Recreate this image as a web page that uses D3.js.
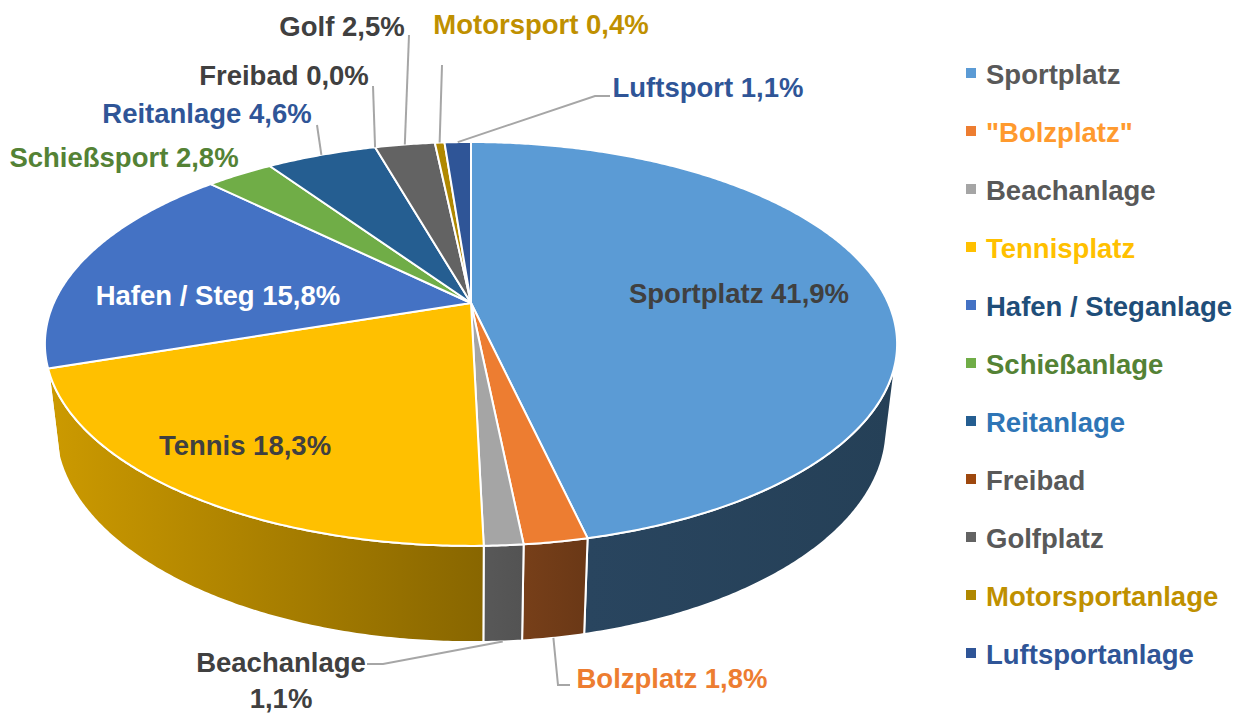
<!DOCTYPE html>
<html>
<head>
<meta charset="utf-8">
<script src="https://cdn.jsdelivr.net/npm/d3@7"></script>
<style>
  html, body { margin: 0; padding: 0; background: #fff; }
  text { font-family: "Liberation Sans", Arial, sans-serif; font-weight: bold; }
</style>
</head>
<body>
<div id="chart"></div>
<script>
// data
var categories = ["Sportplatz", "\"Bolzplatz\"", "Beachanlage", "Tennisplatz", "Hafen / Steganlage", "Schießanlage", "Reitanlage", "Freibad", "Golfplatz", "Motorsportanlage", "Luftsportanlage"];
var labelNames = ["Sportplatz", "Bolzplatz", "Beachanlage", "Tennis", "Hafen / Steg", "Schießsport", "Reitanlage", "Freibad", "Golf", "Motorsport", "Luftsport"];
var values = [41.9, 1.8, 1.1, 18.3, 15.8, 2.8, 4.6, 0.0, 2.5, 0.4, 1.1];

// styles
var sliceColors = ["#5b9bd5", "#ed7d31", "#a5a5a5", "#ffc000", "#4472c4", "#70ad47", "#255e91", "#9e480e", "#636363", "#b08800", "#2f5597"];
var legendTextColors = ["#595959", "#ff9a2e", "#595959", "#ffc000", "#1f4e79", "#548235", "#2e75b6", "#595959", "#595959", "#bf9000", "#2f5597"];

var width = 1236, height = 714;
var fontSize = 27.5;

// 3d view (perspective)
var view = {cx: 471, cy: 303, f: 1822.5, D: 4.368, tilt: 27.65 * Math.PI / 180, h: 0.23};
var sT = Math.sin(view.tilt), cT = Math.cos(view.tilt);

function project(theta, y){
    var x = Math.sin(theta), z = -Math.cos(theta);
    var v = z * sT - y * cT;
    var d = view.D - (z * cT + y * sT);
    return [view.cx + view.f * x / d, view.cy + view.f * v / d];
}

function rim(a0, a1, y){
    var pts = [];
    var n = Math.max(2, Math.ceil((a1 - a0) / (0.5 * Math.PI / 180)));
    for(var i = 0; i <= n; i++){
        pts.push(project(a0 + (a1 - a0) * i / n, y));
    }
    return pts;
}

// visible part of the outer wall
var wallLimit = Math.acos(-1 / (view.D * cT));
var wallFrom = wallLimit, wallTo = 2 * Math.PI - wallLimit;

var shade = d3.scaleLinear().domain([162, 178, 250]).range([0.41, 0.53, 0.80]).clamp(true);
function shadeColor(hex, theta){
    var c = d3.rgb(hex), k = shade(theta * 180 / Math.PI);
    return d3.rgb(c.r * k, c.g * k, c.b * k).formatHex();
}

var fmt = function(v){ return d3.format(".1f")(v).replace(".", ",") + "%"; };

var svg = d3.select("#chart").append("svg")
    .attr("width", width)
    .attr("height", height);

var defs = svg.append("defs");

var arcs = d3.pie().sort(null).value(function(d){ return d; })(values);

var line = d3.line();

// walls
var gWalls = svg.append("g");
arcs.forEach(function(a, i){
    var a0 = Math.max(a.startAngle, wallFrom), a1 = Math.min(a.endAngle, wallTo);
    if(a1 <= a0) return;
    var top = rim(a0, a1, 0), bottom = rim(a0, a1, -view.h).reverse();
    var p0 = project(a0, 0), p1 = project(a1, 0);
    var gid = "wall" + i;
    var grad = defs.append("linearGradient")
        .attr("id", gid)
        .attr("gradientUnits", "userSpaceOnUse")
        .attr("x1", p0[0]).attr("y1", 0)
        .attr("x2", p1[0]).attr("y2", 0);
    grad.append("stop").attr("offset", 0).attr("stop-color", shadeColor(sliceColors[i], a0));
    grad.append("stop").attr("offset", 1).attr("stop-color", shadeColor(sliceColors[i], a1));
    gWalls.append("path")
        .attr("d", line(top.concat(bottom)) + "Z")
        .attr("fill", "url(#" + gid + ")")
        .attr("stroke", "#fff")
        .attr("stroke-width", 2)
        .attr("stroke-linejoin", "round");
});

// top faces
var gTops = svg.append("g");
arcs.forEach(function(a, i){
    if(a.endAngle - a.startAngle <= 0) return;
    var pts = [[view.cx, view.cy]].concat(rim(a.startAngle, a.endAngle, 0));
    gTops.append("path")
        .attr("d", line(pts) + "Z")
        .attr("fill", sliceColors[i])
        .attr("stroke", "#fff")
        .attr("stroke-width", 2)
        .attr("stroke-linejoin", "round");
});

// labels: position, colour, leader (label side points, anchor on top or bottom rim)
var labelSpec = [
    {x: 739, y: 303, color: "#404040"},
    {x: 672, y: 688, color: "#ed7d31", leader: [[570, 685], [558, 685]], rimY: -1},
    {x: 281, y: 672, color: "#404040", leader: [[367, 664], [383, 664]], rimY: -1, twoLines: true},
    {x: 245, y: 455, color: "#404040"},
    {x: 218, y: 305, color: "#ffffff"},
    {x: 124, y: 167, color: "#548235"},
    {x: 207, y: 123, color: "#2f5597", leader: [[317, 125]], rimY: 0},
    {x: 284, y: 85, color: "#404040", leader: [[373, 86]], rimY: 0},
    {x: 342, y: 36, color: "#404040", leader: [[409, 35]], rimY: 0},
    {x: 541, y: 34, color: "#bf9000", leader: [[442, 65]], rimY: 0},
    {x: 708, y: 97, color: "#2f5597", leader: [[610, 96], [595, 96]], rimY: 0}
];

var gLeaders = svg.append("g");
var gLabels = svg.append("g");
arcs.forEach(function(a, i){
    var spec = labelSpec[i];
    if(spec.leader){
        var mid = (a.startAngle + a.endAngle) / 2;
        var anchor = project(mid, spec.rimY < 0 ? -view.h : 0);
        gLeaders.append("path")
            .attr("d", line(spec.leader.concat([anchor])))
            .attr("fill", "none")
            .attr("stroke", "#a6a6a6")
            .attr("stroke-width", 2);
    }
    var t = gLabels.append("text")
        .attr("x", spec.x)
        .attr("y", spec.y)
        .attr("text-anchor", "middle")
        .attr("font-size", fontSize)
        .attr("fill", spec.color);
    if(spec.twoLines){
        t.text(labelNames[i]);
        gLabels.append("text")
            .attr("x", spec.x)
            .attr("y", spec.y + 36)
            .attr("text-anchor", "middle")
            .attr("font-size", fontSize)
            .attr("fill", spec.color)
            .text(fmt(values[i]));
    }else{
        t.text(labelNames[i] + " " + fmt(values[i]));
    }
});

// legend
var legendY = d3.scalePoint().domain(categories).range([75, 655]);
var legend = svg.append("g")
    .selectAll("g")
    .data(categories)
    .enter()
    .append("g")
    .attr("transform", function(d){ return "translate(966," + legendY(d) + ")"; });

legend.append("rect")
    .attr("x", 0)
    .attr("y", -7)
    .attr("width", 10)
    .attr("height", 10)
    .attr("fill", function(d, i){ return sliceColors[i]; });

legend.append("text")
    .attr("x", 20)
    .attr("y", 9)
    .attr("font-size", fontSize)
    .attr("fill", function(d, i){ return legendTextColors[i]; })
    .text(function(d){ return d; });
</script>
</body>
</html>
